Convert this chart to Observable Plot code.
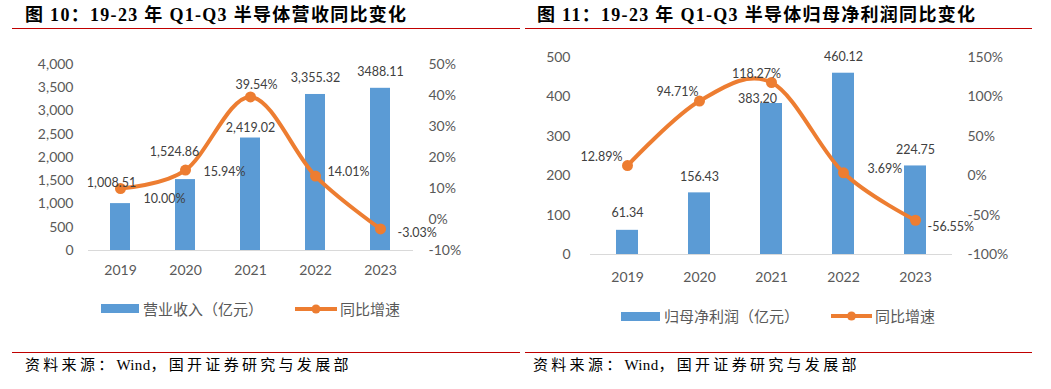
<!DOCTYPE html>
<html><head><meta charset="utf-8">
<script src="https://cdn.jsdelivr.net/npm/d3@7"></script>
<script src="https://cdn.jsdelivr.net/npm/@observablehq/plot@0.6"></script>
<style>
body{margin:0;background:#fff;}
#page{position:relative;width:1051px;height:389px;background:#fff;overflow:hidden;}
.abs{position:absolute;}
.title{position:absolute;font-family:"Liberation Serif","Noto Sans CJK SC",serif;font-weight:700;font-size:18px;line-height:20px;letter-spacing:1.3px;color:#000;white-space:nowrap;}
.rule{position:absolute;height:1px;background:#C00000;}
.src{position:absolute;font-family:"Liberation Serif","Noto Sans CJK SC",serif;font-size:15px;line-height:20px;letter-spacing:3.3px;color:#000;white-space:nowrap;}
.src .lat{letter-spacing:0.3px;}
.lg{position:absolute;font-family:"Noto Sans CJK SC",sans-serif;font-size:15px;line-height:20px;color:#595959;white-space:nowrap;}
</style></head>
<body>
<div id="page">
  <div class="title" style="left:25px;top:5px">图 10：19-23 年 Q1-Q3 半导体营收同比变化</div>
  <div class="rule" style="left:12px;top:28px;width:508px"></div>
  <div id="c1" class="abs" style="left:0;top:40px"></div>
  <div class="abs" style="left:101px;top:304px;width:38px;height:9px;background:#5B9BD5"></div>
  <div class="lg" style="left:143px;top:299px">营业收入（亿元）</div>
  <svg class="abs" style="left:295px;top:304px" width="42" height="10"><line x1="0" x2="42" y1="5" y2="5" stroke="#ED7D31" stroke-width="4" stroke-linecap="round"/><circle cx="21" cy="5" r="4.5" fill="#ED7D31"/></svg>
  <div class="lg" style="left:340px;top:299px">同比增速</div>
  <div class="rule" style="left:12px;top:352px;width:508px"></div>
  <div class="src" style="left:25px;top:355px">资料来源：<span class="lat">Wind</span>，国开证券研究与发展部</div>

  <div class="title" style="left:537px;top:5px">图 11：19-23 年 Q1-Q3 半导体归母净利润同比变化</div>
  <div class="rule" style="left:525px;top:28px;width:507px"></div>
  <div id="c2" class="abs" style="left:525px;top:40px"></div>
  <div class="abs" style="left:621px;top:312px;width:39px;height:9px;background:#5B9BD5"></div>
  <div class="lg" style="left:664px;top:306px">归母净利润（亿元）</div>
  <svg class="abs" style="left:831px;top:311px" width="41" height="10"><line x1="0" x2="41" y1="5" y2="5" stroke="#ED7D31" stroke-width="4" stroke-linecap="round"/><circle cx="20.5" cy="5" r="4.5" fill="#ED7D31"/></svg>
  <div class="lg" style="left:875px;top:306px">同比增速</div>
  <div class="rule" style="left:525px;top:352px;width:507px"></div>
  <div class="src" style="left:533px;top:355px">资料来源：<span class="lat">Wind</span>，国开证券研究与发展部</div>
</div>
<script>
const years = ["2019", "2020", "2021", "2022", "2023"];
const revenue = [1008.51, 1524.86, 2419.02, 3355.32, 3488.11];
const revenueLabels = ["1,008.51", "1,524.86", "2,419.02", "3,355.32", "3488.11"];
const revenueYoY = [10.00, 15.94, 39.54, 14.01, -3.03];
const profit = [61.34, 156.43, 383.20, 460.12, 224.75];
const profitYoY = [12.89, 94.71, 118.27, 3.69, -56.55];
const revTicks = [0, 500, 1000, 1500, 2000, 2500, 3000, 3500, 4000];
const revPctTicks = [-10, 0, 10, 20, 30, 40, 50];
const profTicks = [0, 100, 200, 300, 400, 500];
const profPctTicks = [-100, -50, 0, 50, 100, 150];

const BLUE = "#5B9BD5", ORANGE = "#ED7D31", LBL = "#404040";

function makeChart(o) {
  const toY = p => (p - o.pMin) / (o.pMax - o.pMin) * o.yMax;
  const fromY = v => v / o.yMax * (o.pMax - o.pMin) + o.pMin;
  const rows = years.map((y, i) => ({
    year: y, v: o.values[i], vl: o.valueLabels[i], p: o.pct[i], py: toY(o.pct[i]),
    pl: o.pct[i].toFixed(2) + "%"
  }));
  const barLabel = (i, dx, dy, anchor = "middle") =>
    Plot.text([rows[i]], {x: "year", y: "v", text: "vl", dx, dy, textAnchor: anchor, fill: LBL, fontSize: 12.5});
  const pctLabel = (i, dx, dy, anchor = "start") =>
    Plot.text([rows[i]], {x: "year", y: "py", text: "pl", dx, dy, textAnchor: anchor, fill: LBL, fontSize: 12.5});
  return Plot.plot({
    width: o.width, height: o.height,
    marginTop: o.mt, marginBottom: o.mb, marginLeft: o.ml, marginRight: o.mr,
    style: {fontFamily: "Lato, sans-serif", fontSize: "14px", color: "#595959", background: "transparent"},
    x: {type: "band", domain: years, paddingInner: o.padInner, paddingOuter: o.padInner / 2},
    y: {domain: [0, o.yMax]},
    marks: [
      Plot.ruleY([0], {stroke: "#D9D9D9", strokeWidth: 1.2}),
      Plot.barY(rows, {x: "year", y: "v", fill: BLUE}),
      Plot.axisY(o.yTicks, {anchor: "left", tickSize: 0, tickPadding: o.leftPad, tickFormat: d3.format(","), label: null}),
      Plot.axisY(o.pTicks.map(toY), {anchor: "right", tickSize: 0, tickPadding: o.rightPad, tickFormat: v => Math.round(fromY(v)) + "%", label: null}),
      Plot.axisX({tickSize: 0, tickPadding: o.xPad, label: null}),
      Plot.line(rows, {x: "year", y: "py", stroke: ORANGE, strokeWidth: 4, curve: "cardinal"}),
      Plot.dot(rows, {x: "year", y: "py", r: 5.5, fill: ORANGE}),
      ...o.labels(barLabel, pctLabel)
    ]
  });
}

document.getElementById("c1").append(makeChart({
  values: revenue, valueLabels: revenueLabels, pct: revenueYoY,
  yMax: 4000, pMin: -10, pMax: 50, yTicks: revTicks, pTicks: revPctTicks,
  width: 520, height: 240, mt: 24, mb: 30, ml: 88, mr: 107,
  leftPad: 15, rightPad: 15, xPad: 15, padInner: 0.69,
  labels: (b, p) => [
    b(0, -9, -21), b(1, -11, -28), b(2, 0, -10), b(3, 0, -16), b(4, 0, -16),
    p(0, 23, 10), p(1, 18, 2), p(2, 6, -12, "middle"), p(3, 12, -4), p(4, 17, 4)
  ]
}));

document.getElementById("c2").append(makeChart({
  values: profit, valueLabels: profit.map(v => v.toFixed(2)), pct: profitYoY,
  yMax: 500, pMin: -100, pMax: 150, yTicks: profTicks, pTicks: profPctTicks,
  width: 526, height: 244, mt: 17, mb: 30, ml: 65, mr: 99,
  leftPad: 20, rightPad: 15, xPad: 18, padInner: 0.70,
  labels: (b, p) => [
    b(0, 0, -17), b(1, 0, -16), b(2, -14, -5), b(3, 0, -16), b(4, 0, -16),
    p(0, -5, -9, "end"), p(1, -22, -9, "middle"), p(2, -15, -9, "middle"), p(3, 24, -4), p(4, 12, 7)
  ]
}));
</script>
</body></html>
